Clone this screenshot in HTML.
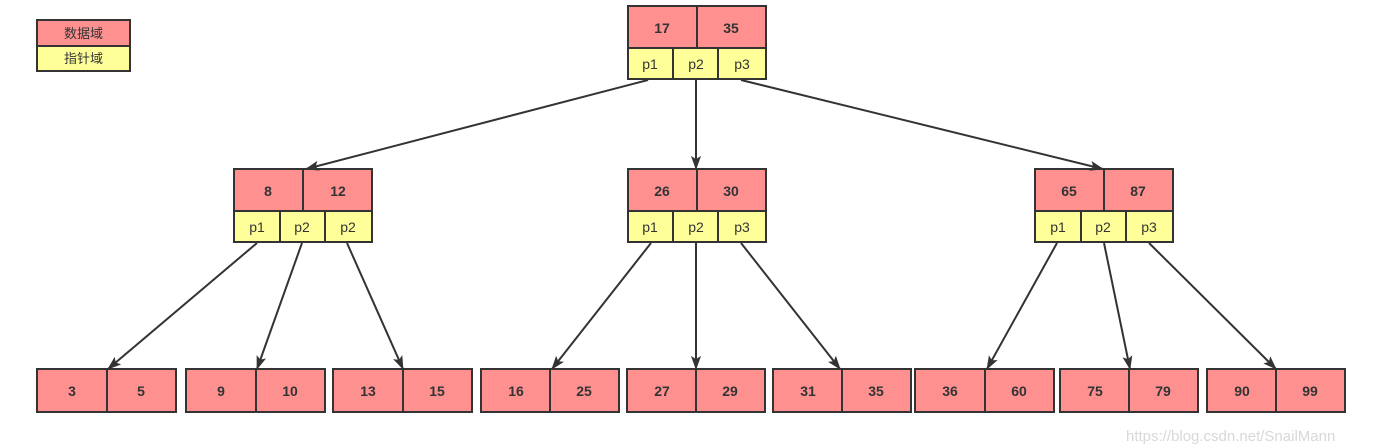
<!DOCTYPE html>
<html><head><meta charset="utf-8"><style>
html,body{margin:0;padding:0;background:#fff;width:1386px;height:446px;overflow:hidden}
svg text{font-family:"Liberation Sans","Noto Sans CJK SC",sans-serif;fill:#333}
</style></head><body>
<svg width="1386" height="446" xmlns="http://www.w3.org/2000/svg">
<defs><marker id="a" markerWidth="16" markerHeight="12" refX="13" refY="5" orient="auto" markerUnits="userSpaceOnUse"><path d="M0,0 L14,5 L0,10 L3,5 z" fill="#333"/></marker></defs>
<g stroke="#333" stroke-width="2">
<rect x="37" y="20" width="93" height="26" fill="#ff9090"/>
<rect x="37" y="46" width="93" height="25" fill="#ffff99"/>
</g>
<text x="83.5" y="38" font-size="13" text-anchor="middle">数据域</text>
<text x="83.5" y="63" font-size="13" text-anchor="middle">指针域</text>

<g stroke="#333" stroke-width="2">
<rect x="628" y="6" width="138" height="42" fill="#ff9090"/><line x1="697" y1="6" x2="697" y2="48"/>
<rect x="628" y="48" width="138" height="31" fill="#ffff99"/><line x1="673" y1="48" x2="673" y2="79"/><line x1="718" y1="48" x2="718" y2="79"/>
<rect x="234" y="169" width="138" height="42" fill="#ff9090"/><line x1="303" y1="169" x2="303" y2="211"/>
<rect x="234" y="211" width="138" height="31" fill="#ffff99"/><line x1="280" y1="211" x2="280" y2="242"/><line x1="325" y1="211" x2="325" y2="242"/>
<rect x="628" y="169" width="138" height="42" fill="#ff9090"/><line x1="697" y1="169" x2="697" y2="211"/>
<rect x="628" y="211" width="138" height="31" fill="#ffff99"/><line x1="673" y1="211" x2="673" y2="242"/><line x1="718" y1="211" x2="718" y2="242"/>
<rect x="1035" y="169" width="138" height="42" fill="#ff9090"/><line x1="1104" y1="169" x2="1104" y2="211"/>
<rect x="1035" y="211" width="138" height="31" fill="#ffff99"/><line x1="1081" y1="211" x2="1081" y2="242"/><line x1="1126" y1="211" x2="1126" y2="242"/>
<rect x="37" y="369" width="139" height="43" fill="#ff9090"/><line x1="107" y1="369" x2="107" y2="412"/>
<rect x="186" y="369" width="139" height="43" fill="#ff9090"/><line x1="256" y1="369" x2="256" y2="412"/>
<rect x="333" y="369" width="139" height="43" fill="#ff9090"/><line x1="403" y1="369" x2="403" y2="412"/>
<rect x="481" y="369" width="138" height="43" fill="#ff9090"/><line x1="550" y1="369" x2="550" y2="412"/>
<rect x="627" y="369" width="138" height="43" fill="#ff9090"/><line x1="696" y1="369" x2="696" y2="412"/>
<rect x="773" y="369" width="138" height="43" fill="#ff9090"/><line x1="842" y1="369" x2="842" y2="412"/>
<rect x="915" y="369" width="139" height="43" fill="#ff9090"/><line x1="985" y1="369" x2="985" y2="412"/>
<rect x="1060" y="369" width="138" height="43" fill="#ff9090"/><line x1="1129" y1="369" x2="1129" y2="412"/>
<rect x="1207" y="369" width="138" height="43" fill="#ff9090"/><line x1="1276" y1="369" x2="1276" y2="412"/>
</g>
<g stroke="#333" stroke-width="2" marker-end="url(#a)">
<line x1="648" y1="80" x2="306" y2="169"/>
<line x1="696" y1="80" x2="696" y2="169"/>
<line x1="741" y1="80" x2="1103" y2="169"/>
<line x1="257" y1="243" x2="108" y2="369"/>
<line x1="302" y1="243" x2="257" y2="369"/>
<line x1="347" y1="243" x2="403" y2="369"/>
<line x1="651" y1="243" x2="552" y2="369"/>
<line x1="696" y1="243" x2="696" y2="369"/>
<line x1="741" y1="243" x2="840" y2="369"/>
<line x1="1057" y1="243" x2="987" y2="369"/>
<line x1="1104" y1="243" x2="1130" y2="369"/>
<line x1="1149" y1="243" x2="1276" y2="369"/>
</g>
<g font-size="14" font-weight="bold" text-anchor="middle">
<text x="662" y="33">17</text><text x="731" y="33">35</text>
<text x="268" y="196">8</text><text x="338" y="196">12</text>
<text x="662" y="196">26</text><text x="731" y="196">30</text>
<text x="1069" y="196">65</text><text x="1138" y="196">87</text>
<text x="72" y="396">3</text><text x="141" y="396">5</text>
<text x="221" y="396">9</text><text x="290" y="396">10</text>
<text x="368" y="396">13</text><text x="437" y="396">15</text>
<text x="516" y="396">16</text><text x="584" y="396">25</text>
<text x="662" y="396">27</text><text x="730" y="396">29</text>
<text x="808" y="396">31</text><text x="876" y="396">35</text>
<text x="950" y="396">36</text><text x="1019" y="396">60</text>
<text x="1095" y="396">75</text><text x="1163" y="396">79</text>
<text x="1242" y="396">90</text><text x="1310" y="396">99</text>
</g>
<g font-size="14" text-anchor="middle">
<text x="650" y="69">p1</text><text x="696" y="69">p2</text><text x="742" y="69">p3</text>
<text x="257" y="232">p1</text><text x="302" y="232">p2</text><text x="348" y="232">p2</text>
<text x="650" y="232">p1</text><text x="696" y="232">p2</text><text x="742" y="232">p3</text>
<text x="1058" y="232">p1</text><text x="1103" y="232">p2</text><text x="1149" y="232">p3</text>
</g>
<text x="1126" y="441" font-size="15" style="fill:#d8d8d8">https://blog.csdn.net/SnailMann</text>
</svg>
</body></html>
